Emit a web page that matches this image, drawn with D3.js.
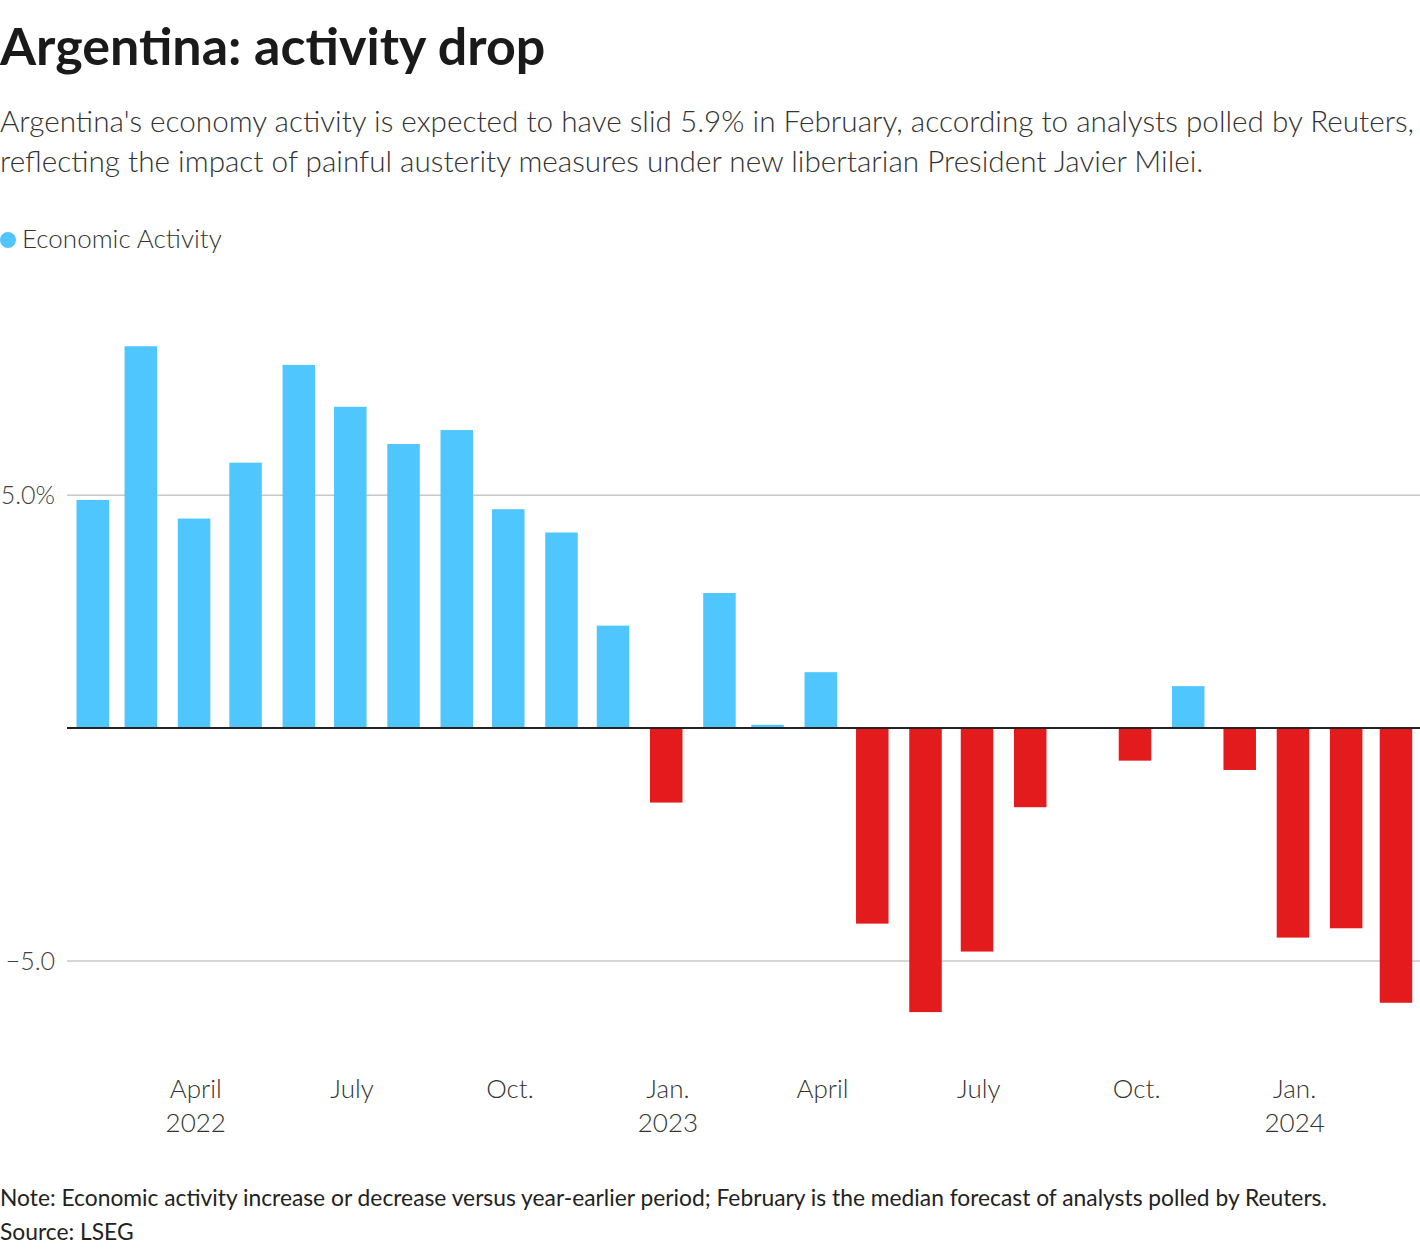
<!DOCTYPE html>
<html>
<head>
<meta charset="utf-8">
<script src="https://cdn.jsdelivr.net/npm/d3@7"></script>
<style>
  body { margin: 0; background: #fff; }
  svg { display: block; }
  text { font-family: Lato, "Noto Sans", sans-serif; }
</style>
</head>
<body>
<div id="chart"></div>
<script>
  // monthly readings, year-on-year % change
  var months = ["2022-01","2022-02","2022-03","2022-04","2022-05","2022-06","2022-07","2022-08","2022-09","2022-10","2022-11","2022-12",
                "2023-01","2023-02","2023-03","2023-04","2023-05","2023-06","2023-07","2023-08","2023-09","2023-10","2023-11","2023-12",
                "2024-01","2024-02"];
  var values = [4.9, 8.2, 4.5, 5.7, 7.8, 6.9, 6.1, 6.4, 4.7, 4.2, 2.2, -1.6,
                2.9, 0.07, 1.2, -4.2, -6.1, -4.8, -1.7, 0, -0.7, 0.9, -0.9, -4.5,
                -4.3, -5.9];
  var yTicks = [-5, 5];
  var yTickLabels = ["\u22125.0", "5.0%"];
  var monthLabels = {0: "Jan.", 3: "April", 6: "July", 9: "Oct."};

  var title = "Argentina: activity drop";
  var subtitle = ["Argentina's economy activity is expected to have slid 5.9% in February, according to analysts polled by Reuters,",
                  "reflecting the impact of painful austerity measures under new libertarian President Javier Milei."];
  var legendLabel = "Economic Activity";
  var note = "Note: Economic activity increase or decrease versus year-earlier period; February is the median forecast of analysts polled by Reuters.";
  var source = "Source: LSEG";

  var width = 1420;
  var height = 1252;
  var margin = {top: 309, right: 0, bottom: 198, left: 67};
  var barWidth = 32.5;
  var blue = "#4fc6fd";
  var red = "#e31b1d";

  var parseMonth = d3.timeParse("%Y-%m");
  // each reading is dated at the end of its month
  var data = months.map(function(m, i) {
    var end = d3.timeDay.offset(d3.timeMonth.offset(parseMonth(m), 1), -1);
    return {date: end, value: values[i]};
  });

  var svg = d3.select("#chart")
    .append("svg")
    .attr("width", width)
    .attr("height", height);

  var x = d3.scaleTime()
    .domain([d3.timeDay.offset(data[0].date, -15), d3.timeDay.offset(data[data.length - 1].date, 14)])
    .range([margin.left, width - margin.right]);

  var y = d3.scaleLinear()
    .domain([-7, 9])
    .range([height - margin.bottom, margin.top]);

  // titles
  svg.append("text")
    .attr("x", 0).attr("y", 65)
    .style("font-size", "52px").style("font-weight", 700)
    .style("fill", "#1a1a1a")
    .text(title);

  svg.selectAll(".sub")
    .data(subtitle)
    .enter().append("text")
    .attr("class", "sub")
    .attr("x", 0)
    .attr("y", function(d, i) { return 132 + i * 40; })
    .style("font-size", "29.7px").style("font-weight", 300)
    .style("fill", "#333")
    .text(function(d) { return d; });

  // legend
  svg.append("circle")
    .attr("cx", 8).attr("cy", 240).attr("r", 8)
    .attr("fill", blue);
  svg.append("text")
    .attr("x", 22).attr("y", 248)
    .style("font-size", "26px").style("font-weight", 300)
    .style("fill", "#333")
    .text(legendLabel);

  // grid
  var grid = svg.append("g");
  grid.selectAll("line")
    .data(yTicks)
    .enter().append("line")
    .attr("x1", margin.left).attr("x2", width)
    .attr("y1", function(d) { return y(d); })
    .attr("y2", function(d) { return y(d); })
    .attr("stroke", "#c8c8c8").attr("stroke-width", 1.5);
  grid.selectAll("text")
    .data(yTicks)
    .enter().append("text")
    .attr("x", 55)
    .attr("y", function(d) { return y(d); })
    .attr("dy", "0.35em")
    .attr("text-anchor", "end")
    .style("font-size", "25px").style("font-weight", 300)
    .style("fill", "#404040")
    .text(function(d, i) { return yTickLabels[i]; });

  // bars
  svg.append("g")
    .selectAll("rect")
    .data(data)
    .enter().append("rect")
    .attr("x", function(d) { return x(d.date) - barWidth / 2; })
    .attr("width", barWidth)
    .attr("y", function(d) { return y(Math.max(0, d.value)); })
    .attr("height", function(d) { return Math.abs(y(d.value) - y(0)); })
    .attr("fill", function(d) { return d.value >= 0 ? blue : red; });

  // zero line
  svg.append("line")
    .attr("x1", margin.left).attr("x2", width)
    .attr("y1", y(0)).attr("y2", y(0))
    .attr("stroke", "#222").attr("stroke-width", 2);

  // x axis
  var ticks = x.ticks(d3.timeMonth.every(3));
  var xAxis = svg.append("g");
  xAxis.selectAll(".m")
    .data(ticks)
    .enter().append("text")
    .attr("class", "m")
    .attr("x", function(d) { return x(d); })
    .attr("y", 1098)
    .attr("text-anchor", "middle")
    .style("font-size", "26px").style("font-weight", 300)
    .style("fill", "#333")
    .text(function(d) { return monthLabels[d.getMonth()]; });
  xAxis.selectAll(".yr")
    .data(ticks.filter(function(d, i) { return i === 0 || d.getMonth() === 0; }))
    .enter().append("text")
    .attr("class", "yr")
    .attr("x", function(d) { return x(d); })
    .attr("y", 1132)
    .attr("text-anchor", "middle")
    .style("font-size", "26px").style("font-weight", 300)
    .style("fill", "#333")
    .text(function(d) { return d.getFullYear(); });

  // footer
  svg.append("text")
    .attr("x", 0).attr("y", 1206)
    .style("font-size", "22.8px").style("font-weight", 400)
    .style("fill", "#222")
    .text(note);
  svg.append("text")
    .attr("x", 0).attr("y", 1240)
    .style("font-size", "22.8px").style("font-weight", 400)
    .style("fill", "#222")
    .text(source);
</script>
</body>
</html>
